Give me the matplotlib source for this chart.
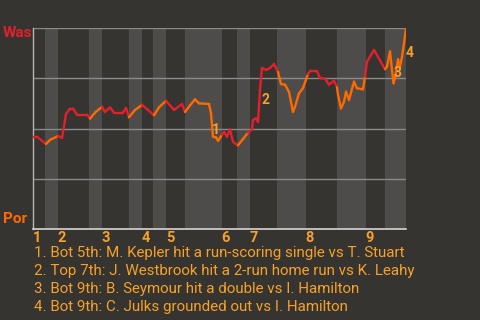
import numpy as np
import matplotlib.pyplot as plt
from matplotlib.collections import LineCollection

# --- data: game progress (play units) vs Washington win probability (%) ---
progress = [0, 4, 13, 17, 25, 29, 33, 37, 40, 44, 54, 57, 62, 69, 72, 77, 81, 90, 93, 96,
            102, 109, 115, 121, 126, 133, 141, 149, 152, 157, 162, 166, 176, 178, 180, 183,
            185, 189, 191, 194, 197, 200, 205, 210, 215, 219, 220, 223, 225, 227, 229, 233,
            237, 241, 245, 248, 252, 256, 260, 262, 266, 270, 275, 277, 284, 287, 292, 296,
            301, 304, 305, 308, 311, 313, 316, 321, 324, 330, 332, 334, 341, 352, 354, 357,
            359, 360.5, 362, 365, 367, 369, 371, 373]
was_wp = [45.9, 45.9, 42.3, 44.3, 46.3, 45.3, 57.2, 59.9, 59.9, 56.9, 56.9, 54.9, 57.9, 60.8,
          58.2, 60.5, 57.9, 57.9, 60.2, 55.6, 59.2, 61.8, 59.2, 56.6, 60.5, 63.8, 59.2, 62.2,
          58.2, 61.5, 64.5, 62.5, 62.2, 57.6, 45.9, 45.6, 43.9, 46.9, 48.3, 45.9, 49.6, 43.3,
          41.6, 44.8, 47.9, 49.6, 54.2, 55.1, 53.2, 69.2, 80.1, 79.1, 80.1, 82.1, 78.1, 72.1,
          71.8, 68.2, 58.2, 60.8, 67.5, 70.1, 77.1, 78.5, 78.5, 75.1, 74.8, 71.8, 73.8, 70.5,
          66.7, 60.0, 63.3, 68.3, 64.2, 73.3, 70.0, 69.5, 75.8, 83.2, 89.1, 79.5, 80.7, 88.3,
          79.1, 72.5, 75.0, 84.4, 80.7, 85.7, 92.4, 100]

# half-inning boundaries (top, bottom, top, ...)
half_starts = [0, 12, 25, 56, 69, 96, 109, 120, 133, 152, 189, 204, 217, 244, 273, 304, 333, 352]
game_end = 373
innings = ["1", "2", "3", "4", "5", "6", "7", "8", "9"]

marks = ["1", "2", "3", "4"]
mark_x = [183, 233, 365, 377]
mark_y = [49.3, 64.2, 77.5, 87.6]

plays = [
    "1. Bot 5th: M. Kepler hit a run-scoring single vs T. Stuart",
    "2. Top 7th: J. Westbrook hit a 2-run home run vs K. Leahy",
    "3. Bot 9th: B. Seymour hit a double vs I. Hamilton",
    "4. Bot 9th: C. Julks grounded out vs I. Hamilton",
]

BG = "#363431"
BAND = "#4e4c4a"
RED = "#e3202c"
ORANGE = "#ff6a00"
AMBER = "#f5a12a"

plt.rcParams["font.family"] = ["Roboto", "DejaVu Sans"]

fig = plt.figure(figsize=(4.8, 3.2), dpi=100, facecolor=BG)
ax = fig.add_axes([33 / 480, 91 / 320, 373 / 480, 201 / 320], facecolor=BG)

# shaded bottom halves
bounds = half_starts + [game_end]
for i in range(len(half_starts)):
    if i % 2 == 1:
        ax.axvspan(bounds[i], bounds[i + 1], color=BAND, lw=0, zorder=0)

for yv in [25, 50, 75, 100]:
    ax.axhline(yv, color="#8c8a88", lw=1, zorder=1)

# colour each segment by half-inning
x = np.array(progress, dtype=float)
y = np.array(was_wp, dtype=float)
segs = np.stack([np.column_stack([x[:-1], y[:-1]]), np.column_stack([x[1:], y[1:]])], axis=1)
mids = (x[:-1] + x[1:]) / 2
half_idx = np.searchsorted(half_starts, mids, side="right") - 1
colors = [RED if h % 2 == 0 else ORANGE for h in half_idx]
ax.add_collection(LineCollection(segs, colors=colors, linewidths=1.7, zorder=3,
                                 capstyle="round", joinstyle="round"))

for m, mx, my in zip(marks, mark_x, mark_y):
    ax.text(mx, my, m, color=AMBER, fontsize=10, fontweight="bold",
            ha="center", va="center", zorder=4, clip_on=False)

ax.set_xlim(0, game_end)
ax.set_ylim(0, 100)
ax.set_xticks([])
ax.set_yticks([])
for s in ["top", "right"]:
    ax.spines[s].set_visible(False)
ax.spines["left"].set_color("#b8b6b4")
ax.spines["bottom"].set_color("#d8d6d4")
ax.spines["left"].set_linewidth(1)
ax.spines["bottom"].set_linewidth(1.2)

# team labels
fig.text(3 / 480, 1 - 33 / 320, "Was", color=RED, fontsize=11, fontweight="bold", va="center")
fig.text(3 / 480, 1 - 219 / 320, "Por", color=ORANGE, fontsize=11, fontweight="bold", va="center")

# inning numbers
trans = ax.get_xaxis_transform()
for k, lab in enumerate(innings):
    ax.text(half_starts[2 * k] + 4, -0.045, lab, transform=trans, color=AMBER,
            fontsize=10.5, fontweight="bold", ha="center", va="center", clip_on=False)

for j, line in enumerate(plays):
    fig.text(34 / 480, 1 - (253 + 18 * j) / 320, line, color=AMBER, fontsize=10.9, va="center")

fig.savefig("out.png", dpi=100, facecolor=BG)
